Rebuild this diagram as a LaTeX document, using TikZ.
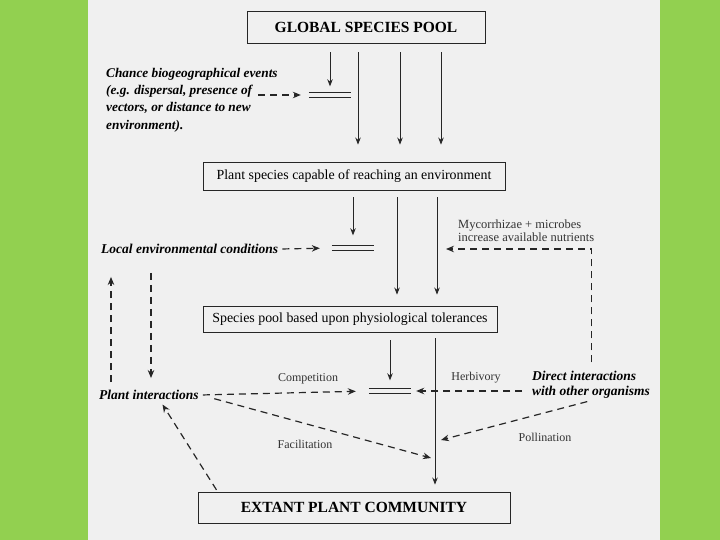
\documentclass[tikz,border=0pt]{standalone}
\usepackage{fontspec}
\setmainfont{Liberation Serif}
\usetikzlibrary{arrows.meta}
\definecolor{slidegreen}{RGB}{146,208,80}
\definecolor{paper}{RGB}{240,240,240}

\begin{document}
\begin{tikzpicture}[
  x=1pt,y=-1pt,
  box/.style={draw=black!85,line width=0.9pt,inner sep=0pt},
  capbox/.style={box,font=\fontsize{15.5}{18}\selectfont\bfseries},
  txtbox/.style={box,font=\fontsize{13.9}{16}\selectfont},
  lab/.style={font=\fontsize{13.5}{14.5}\selectfont\bfseries\itshape,inner sep=2pt},
  note/.style={font=\fontsize{12}{13}\selectfont,text=black!80,inner sep=1pt},
  junction/.style={minimum width=42pt,minimum height=5pt,inner sep=0pt},
  bar/.style={line width=1.5pt,black!85},
  flow/.style={-{Stealth[length=7pt,width=5.5pt]},line width=0.8pt,black!85},
  effect/.style={-{Stealth[length=8pt,width=6.5pt]},line width=1.2pt,black!85,
                 dash pattern=on 7pt off 5pt}
]
\useasboundingbox (0,0) rectangle (720,540);
\fill[slidegreen] (0,0) rectangle (720,540);
\fill[paper] (88,0) rectangle (660,540);

% ---- Boxes ----
\node[capbox,minimum width=238pt,minimum height=32pt] (global) at (366,27) {GLOBAL SPECIES POOL};
\node[txtbox,minimum width=302pt,minimum height=28pt] (reach) at (354,176) {Plant species capable of reaching an environment};
\node[txtbox,minimum width=294pt,minimum height=26pt] (physio) at (350,319) {Species pool based upon physiological tolerances};
\node[capbox,minimum width=312pt,minimum height=31pt] (extant) at (354,507.5) {EXTANT PLANT COMMUNITY};

% ---- Filters (double bars) ----
\node[junction] (j1) at (330,95) {};
\node[junction] (j2) at (353,248) {};
\node[junction] (j3) at (390,391) {};
\foreach \j in {j1,j2,j3}
  \draw[bar] (\j.north west) -- (\j.north east) (\j.south west) -- (\j.south east);

% ---- Side labels ----
\node[lab,anchor=west,align=left,font=\fontsize{13.3}{17.3}\selectfont\bfseries\itshape] (chance) at (104,100)
  {Chance biogeographical events\\(e.g. dispersal, presence of\\vectors, or distance to new\\environment).};
\node[lab,anchor=west] (local) at (99,249) {Local environmental conditions};
\node[lab,anchor=west] (plantint) at (97,395) {Plant interactions};
\node[lab,anchor=west,align=left] (direct) at (530,385) {Direct interactions\\with other organisms};
\node[note,anchor=west,align=left,font=\fontsize{12.5}{13}\selectfont] (myco) at (457,231) {Mycorrhizae + microbes\\increase available nutrients};
\node[note] (compet) at (308,379) {Competition};
\node[note] (herb) at (476,378) {Herbivory};
\node[note] (facl) at (305,444) {Facilitation};
\node[note] (poll) at (545,437) {Pollination};

% ---- Species flow (solid) ----
\draw[flow,shorten <=9pt,shorten >=6pt] (global.south -| j1.north) -- (j1.north);
\foreach \x in {358,400,441}
  \draw[flow,shorten <=9pt,shorten >=17pt] (global.south -| \x,0) -- (reach.north -| \x,0);
\draw[flow,shorten <=7pt,shorten >=10pt] (reach.south -| j2.north) -- (j2.north);
\foreach \x in {397,437}
  \draw[flow,shorten <=7pt,shorten >=11pt] (reach.south -| \x,0) -- (physio.north -| \x,0);
\draw[flow,shorten <=8pt,shorten >=8pt] (physio.south -| j3.north) -- (j3.north);
\draw[flow,shorten <=6pt,shorten >=7pt] (physio.south -| 435,0) -- (extant.north -| 435,0);

% ---- Influences (dashed) ----
\coordinate (chanceend) at (258,95);
\coordinate (nutr) at (446,249);
\coordinate (facil) at (431,458);
\coordinate (pollin) at (441,440);
\draw[effect,shorten >=8pt] (chanceend) -- (j1.west);
\draw[effect,shorten <=2pt,shorten >=12pt] (local.east) -- (j2.west);
\draw[effect,shorten <=7pt] (direct.north) |- (nutr);
\draw[effect,shorten <=6pt,shorten >=21pt] (plantint.north -| 111,0) -- (local.south -| 111,0);
\draw[effect,shorten <=17pt,shorten >=10pt] (local.south -| 151,0) -- (plantint.north -| 151,0);
\draw[effect,shorten <=2pt,shorten >=13pt] (plantint.east) -- (j3.west);
\draw[effect,shorten <=8pt,shorten >=5pt] (direct.west |- j3.east) -- (j3.east);
\draw[effect,shorten <=14pt] (plantint.east) -- (facil);
\draw[effect,shorten <=4pt] (direct.south) -- (pollin);
\draw[effect,shorten <=2pt,shorten >=3pt] ([xshift=20pt]extant.north west) -- ([xshift=12pt]plantint.south);

\end{tikzpicture}
\end{document}
